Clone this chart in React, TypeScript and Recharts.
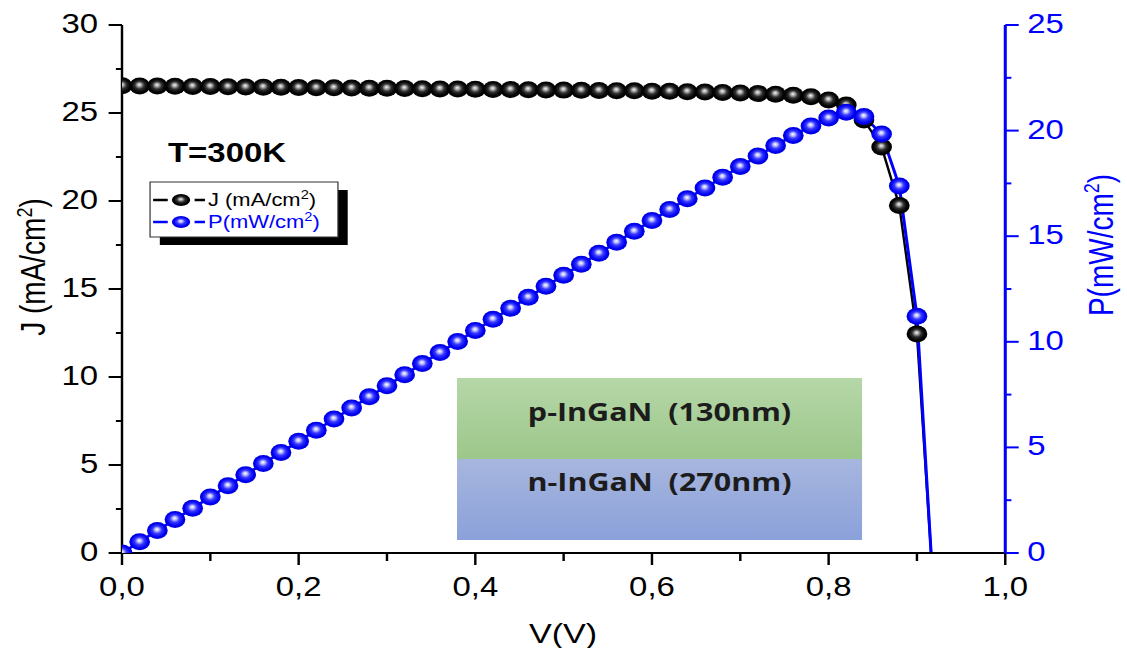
import React from "react";
import { LineChart, Line, XAxis, YAxis } from "recharts";

// the figure is drawn narrow and stretched sideways, like the exported original
const SX = 1.22;
const W = 924;
const H = 648;

const FONT = "'Liberation Sans', Arial, sans-serif";
const BLUE = "#0000ff";

// bias voltage (V)
const V = [
  0, 0.02, 0.04, 0.06, 0.08, 0.1, 0.12, 0.14, 0.16, 0.18,
  0.2, 0.22, 0.24, 0.26, 0.28, 0.3, 0.32, 0.34, 0.36, 0.38,
  0.4, 0.42, 0.44, 0.46, 0.48, 0.5, 0.52, 0.54, 0.56, 0.58,
  0.6, 0.62, 0.64, 0.66, 0.68, 0.7, 0.72, 0.74, 0.76, 0.78,
  0.8, 0.82, 0.84, 0.86, 0.88, 0.9,
];

// current density (mA/cm2)
const J = [
  26.55, 26.54, 26.53, 26.52, 26.51, 26.5, 26.49, 26.48, 26.47, 26.46,
  26.45, 26.44, 26.43, 26.42, 26.41, 26.4, 26.39, 26.38, 26.37, 26.36,
  26.35, 26.34, 26.33, 26.32, 26.31, 26.3, 26.29, 26.28, 26.27, 26.26,
  26.24, 26.23, 26.21, 26.19, 26.17, 26.14, 26.11, 26.07, 26.01, 25.92,
  25.74, 25.45, 24.6, 23.07, 19.75, 12.45,
];

// power density (mW/cm2)
const P = [
  0, 0.531, 1.061, 1.591, 2.121, 2.65, 3.179, 3.707, 4.235, 4.763,
  5.29, 5.817, 6.343, 6.869, 7.395, 7.92, 8.445, 8.969, 9.493, 10.017,
  10.54, 11.063, 11.585, 12.107, 12.629, 13.15, 13.671, 14.191, 14.711, 15.231,
  15.744, 16.263, 16.774, 17.285, 17.796, 18.298, 18.799, 19.292, 19.768, 20.218,
  20.592, 20.869, 20.664, 19.84, 17.38, 11.205,
];

// open-circuit point, joined by the lines but not marked
const V_OC = 0.916;

const X_TICKS = [0, 0.1, 0.2, 0.3, 0.4, 0.5, 0.6, 0.7, 0.8, 0.9, 1];
const J_TICKS = [0, 2.5, 5, 7.5, 10, 12.5, 15, 17.5, 20, 22.5, 25, 27.5, 30];
const P_TICKS = [0, 2.5, 5, 7.5, 10, 12.5, 15, 17.5, 20, 22.5, 25];

const rows = V.map((v, i) => ({ v, j: J[i], p: P[i], mark: true })).concat([
  { v: V_OC, j: 0, p: 0, mark: false },
]);

// plot box (pre-stretch units), used to trim the markers at the frame
const PLOT = { x: 100, y: 25, w: 724, h: 528 };

function XTick(props: any) {
  const { x, y, payload } = props;
  const v = payload.value;
  const major = Math.round(v * 10) % 2 === 0;
  return (
    <g>
      <line x1={x} x2={x} y1={y} y2={y + (major ? 12 : 8)} stroke="#000" strokeWidth={2} />
      {major && (
        <text x={x} y={y + 43} textAnchor="middle" fontSize={27} fontFamily={FONT} fill="#000">
          {v.toFixed(1).replace(".", ",")}
        </text>
      )}
    </g>
  );
}

function LeftTick(props: any) {
  const { x, y, payload } = props;
  const major = payload.value % 5 === 0;
  return (
    <g>
      <line x1={x} x2={x - (major ? 11 : 5)} y1={y} y2={y} stroke="#000" strokeWidth={2} />
      {major && (
        <text x={x - 19.5} y={y + 8} textAnchor="end" fontSize={27} fontFamily={FONT} fill="#000">
          {payload.value}
        </text>
      )}
    </g>
  );
}

function RightTick(props: any) {
  const { x, y, payload } = props;
  const major = payload.value % 5 === 0;
  return (
    <g>
      <line x1={x} x2={x + (major ? 11 : 5)} y1={y} y2={y} stroke={BLUE} strokeWidth={2} />
      {major && (
        <text x={x + 18} y={y + 8} textAnchor="start" fontSize={27} fontFamily={FONT} fill={BLUE}>
          {payload.value}
        </text>
      )}
    </g>
  );
}

const ball = (grad: string, tag: string) => (p: any) =>
  p.payload && p.payload.mark ? (
    <circle key={tag + p.index} cx={p.cx} cy={p.cy} r={8.5} fill={`url(#${grad})`} clipPath="url(#plotClip)" />
  ) : (
    <g key={tag + p.index} />
  );

export default function App() {
  return (
    <div style={{ position: "absolute", left: 0, top: 0, width: 1127, height: H, overflow: "hidden", background: "#fff" }}>
      <div style={{ position: "relative", width: W, height: H, transform: `scaleX(${SX})`, transformOrigin: "0 0" }}>
        <LineChart width={W} height={H} data={rows} margin={{ top: 25, right: 40, bottom: 55, left: 40 }}>
          <XAxis
            dataKey="v"
            type="number"
            domain={[0, 1]}
            ticks={X_TICKS}
            interval={0}
            height={40}
            tick={<XTick />}
            tickLine={false}
            tickSize={0}
            tickMargin={0}
            axisLine={{ stroke: "#000", strokeWidth: 2 }}
          />
          <XAxis
            xAxisId="top"
            orientation="top"
            type="number"
            domain={[0, 1]}
            height={0}
            tick={false}
            tickLine={false}
            axisLine={{ stroke: "#000", strokeWidth: 2 }}
          />
          <YAxis
            yAxisId="left"
            domain={[0, 30]}
            ticks={J_TICKS}
            interval={0}
            width={60}
            tick={<LeftTick />}
            tickLine={false}
            tickSize={0}
            tickMargin={0}
            axisLine={{ stroke: "#000", strokeWidth: 2 }}
          />
          <YAxis
            yAxisId="right"
            orientation="right"
            domain={[0, 25]}
            ticks={P_TICKS}
            interval={0}
            width={60}
            tick={<RightTick />}
            tickLine={false}
            tickSize={0}
            tickMargin={0}
            axisLine={{ stroke: BLUE, strokeWidth: 2.5 }}
          />
          <Line
            yAxisId="left"
            dataKey="j"
            type="linear"
            stroke="#000"
            strokeWidth={2}
            dot={ball("ballK", "j")}
            activeDot={false}
            isAnimationActive={false}
          />
          <Line
            yAxisId="right"
            dataKey="p"
            type="linear"
            stroke={BLUE}
            strokeWidth={2.5}
            dot={ball("ballB", "p")}
            activeDot={false}
            isAnimationActive={false}
          />
        </LineChart>

        <svg width={W} height={H} style={{ position: "absolute", left: 0, top: 0, pointerEvents: "none" }}>
          <defs>
            <clipPath id="plotClip">
              <rect x={PLOT.x} y={PLOT.y} width={PLOT.w} height={PLOT.h} />
            </clipPath>
            <radialGradient id="ballK" cx="0.5" cy="0.5" r="0.5" fx="0.48" fy="0.42">
              <stop offset="0" stopColor="#f4f4f4" />
              <stop offset="0.2" stopColor="#a8a8a8" />
              <stop offset="0.45" stopColor="#303030" />
              <stop offset="0.75" stopColor="#050505" />
              <stop offset="1" stopColor="#000" />
            </radialGradient>
            <radialGradient id="ballB" cx="0.5" cy="0.5" r="0.5" fx="0.48" fy="0.42">
              <stop offset="0" stopColor="#ffffff" />
              <stop offset="0.2" stopColor="#b8bcff" />
              <stop offset="0.45" stopColor="#3838ff" />
              <stop offset="0.8" stopColor="#0000f4" />
              <stop offset="1" stopColor="#0000d8" />
            </radialGradient>
            <linearGradient id="layerP" x1="0" y1="0" x2="0" y2="1">
              <stop offset="0" stopColor="#b6d7a8" />
              <stop offset="1" stopColor="#9cc78a" />
            </linearGradient>
            <linearGradient id="layerN" x1="0" y1="0" x2="0" y2="1">
              <stop offset="0" stopColor="#a7b6de" />
              <stop offset="1" stopColor="#8ba1da" />
            </linearGradient>
          </defs>

          {/* axis titles */}
          <text transform="translate(37,267) rotate(-90)" textAnchor="middle" fontSize={28} fontFamily={FONT} fill="#000">
            J (mA/cm<tspan dy={-11} fontSize={18}>2</tspan><tspan dy={11}>)</tspan>
          </text>
          <text transform="translate(912,245) rotate(-90)" textAnchor="middle" fontSize={28} fontFamily={FONT} fill={BLUE}>
            P(mW/cm<tspan dy={-11} fontSize={18}>2</tspan><tspan dy={11}>)</tspan>
          </text>
          <text x={461.5} y={643} textAnchor="middle" fontSize={28} fontFamily={FONT} fill="#000">
            V(V)
          </text>

          <text x={137.7} y={162} fontSize={27} fontWeight="bold" fontFamily={FONT} fill="#000">
            T=300K
          </text>

          {/* legend */}
          <rect x={131} y={190} width={154} height={55} fill="#000" />
          <rect x={123} y={182} width={154} height={55} fill="#fff" stroke="#333" strokeWidth={1} />
          <line x1={125.5} x2={137.5} y1={200} y2={200} stroke="#000" strokeWidth={2.5} />
          <line x1={159.5} x2={168} y1={200} y2={200} stroke="#000" strokeWidth={2.5} />
          <ellipse cx={148.4} cy={200} rx={7.5} ry={6} fill="url(#ballK)" />
          <text x={170.5} y={206} fontSize={18} fontFamily={FONT} fill="#000">
            J (mA/cm<tspan dy={-7} fontSize={12}>2</tspan><tspan dy={7}>)</tspan>
          </text>
          <line x1={125.5} x2={137.5} y1={222} y2={222} stroke={BLUE} strokeWidth={2.5} />
          <line x1={159.5} x2={168} y1={222} y2={222} stroke={BLUE} strokeWidth={2.5} />
          <ellipse cx={148.4} cy={222} rx={7.5} ry={6} fill="url(#ballB)" />
          <text x={170.5} y={228} fontSize={18} fontFamily={FONT} fill={BLUE}>
            P(mW/cm<tspan dy={-7} fontSize={12}>2</tspan><tspan dy={7}>)</tspan>
          </text>

          {/* device stack */}
          <rect x={374.6} y={378} width={332} height={81} fill="url(#layerP)" />
          <rect x={374.6} y={459} width={332} height={81} fill="url(#layerN)" />
          <text x={540.6} y={421} textAnchor="middle" fontSize={25} fontWeight="bold" fontFamily="'Open Sans', sans-serif" fill="#1c1c1c" style={{ whiteSpace: "pre" }}>
            {"p-InGaN  (130nm)"}
          </text>
          <text x={540.6} y={491} textAnchor="middle" fontSize={25} fontWeight="bold" fontFamily="'Open Sans', sans-serif" fill="#1c1c1c" style={{ whiteSpace: "pre" }}>
            {"n-InGaN  (270nm)"}
          </text>
        </svg>
      </div>
    </div>
  );
}
